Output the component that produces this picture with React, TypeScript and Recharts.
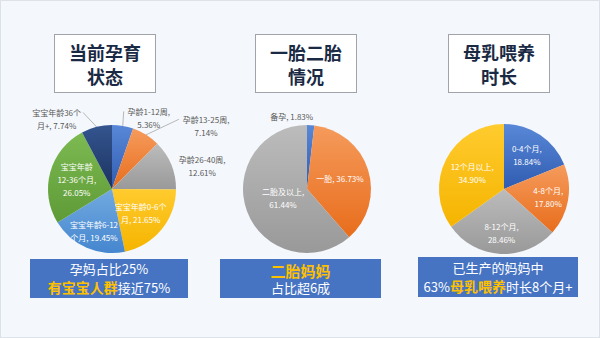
import { PieChart, Pie, Cell } from 'recharts';

// 当前孕育状态
const stageNames = ['孕龄1-12周', '孕龄13-25周', '孕龄26-40周', '宝宝年龄0-6个月', '宝宝年龄6-12个月', '宝宝年龄12-36个月', '宝宝年龄36个月+'];
const stageValues = [5.36, 7.14, 12.61, 21.65, 19.45, 26.05, 7.74];
const stageLabels = ['孕龄1-12周,\n5.36%', '孕龄13-25周,\n7.14%', '孕龄26-40周,\n12.61%', '宝宝年龄0-6个\n月, 21.65%', '宝宝年龄6-12\n个月, 19.45%', '宝宝年龄\n12-36个月,\n26.05%', '宝宝年龄36个\n月+, 7.74%'];

// 一胎二胎情况
const birthNames = ['备孕', '一胎', '二胎及以上'];
const birthValues = [1.83, 36.73, 61.44];
const birthLabels = ['备孕, 1.83%', '一胎, 36.73%', '二胎及以上,\n61.44%'];

// 母乳喂养时长
const feedNames = ['0-4个月', '4-8个月', '8-12个月', '12个月以上'];
const feedValues = [18.84, 17.8, 28.46, 34.9];
const feedLabels = ['0-4个月,\n18.84%', '4-8个月,\n17.80%', '8-12个月,\n28.46%', '12个月以上,\n34.90%'];

// [top, bottom] gradient colours
const PAL: Record<string, [string, string]> = {
  blue: ['#5a88d8', '#2f5cb0'],
  orange: ['#f59b5c', '#e86d1c'],
  grey: ['#bcbcbc', '#999999'],
  yellow: ['#ffcb2e', '#f5b400'],
  sky: ['#72aae0', '#4586cf'],
  green: ['#7dba52', '#5e9a36'],
  navy: ['#34558f', '#1c3260'],
};

// label placement: outside labels are offset from the slice edge,
// inside labels sit at a fraction of the radius
type Off = { dx: number; dy: number; leader: boolean } | null;
const stageOffsets: Off[] = [
  { dx: 26, dy: -8, leader: true },
  { dx: 60, dy: -9, leader: true },
  { dx: 31, dy: 1, leader: false },
  null, null, null,
  { dx: -40, dy: -8, leader: true },
];
const stageLabelR = [0, 0, 0, 0.58, 0.71, 0.57, 0];
const birthOffsets: Off[] = [{ dx: -19, dy: -9, leader: false }, null, null];
const birthLabelR = [0, 0.54, 0.4];
const feedOffsets: Off[] = [null, null, null, null];
const feedLabelR = [0.63, 0.69, 0.68, 0.55];

const FONT = '"Noto Sans CJK SC", "Noto Sans", sans-serif';
const RAD = Math.PI / 180;

function textWidth(s: string, fs: number) {
  let w = 0;
  for (const ch of s) w += /[\u3000-\u9fff\uff00-\uffef]/.test(ch) ? fs : fs * 0.55;
  return w;
}

function makeLabel(lines: string[], offsets: Off[], radii: number[], fs = 8) {
  return (props: any) => {
    const { cx, cy, midAngle, outerRadius, index } = props;
    const cos = Math.cos(-midAngle * RAD);
    const sin = Math.sin(-midAngle * RAD);
    const rows = lines[index].split('\n');
    const lh = 13;
    const off = offsets[index];
    let x: number, y: number, fill: string;
    let leader: JSX.Element | null = null;
    if (off) {
      const ex = cx + outerRadius * cos;
      const ey = cy + outerRadius * sin;
      x = ex + off.dx;
      y = ey + off.dy;
      fill = '#595959';
      if (off.leader) {
        const w = Math.max(...rows.map((r) => textWidth(r, fs)));
        const lx = off.dx > 0 ? x - w / 2 - 2 : x + w / 2 + 2;
        const ly = y - ((rows.length - 1) * lh) / 2;
        leader = <line x1={ex} y1={ey} x2={lx} y2={ly} stroke="#a6a6a6" strokeWidth={0.8} />;
      }
    } else {
      const k = radii[index] || 0.6;
      x = cx + outerRadius * k * cos;
      y = cy + outerRadius * k * sin;
      fill = '#ffffff';
    }
    const y0 = y - ((rows.length - 1) * lh) / 2;
    return (
      <g key={`lbl-${index}`}>
        {leader}
        {rows.map((r, i) => (
          <text key={i} x={x} y={y0 + i * lh} textAnchor="middle" dominantBaseline="central" fill={fill} fontSize={fs} fontFamily={FONT}>
            {r}
          </text>
        ))}
      </g>
    );
  };
}

function Grad({ id, colors }: { id: string; colors: string[] }) {
  return (
    <defs>
      {colors.map((c, i) => (
        <linearGradient key={i} id={`${id}-${i}`} x1="0" y1="0" x2="0" y2="1">
          <stop offset="0%" stopColor={PAL[c][0]} />
          <stop offset="100%" stopColor={PAL[c][1]} />
        </linearGradient>
      ))}
    </defs>
  );
}

type PanelProps = {
  left: number;
  id: string;
  names: string[];
  values: number[];
  labels: string[];
  offsets: Off[];
  radii: number[];
  colors: string[];
  cx: number;
  cy: number;
  r: number;
  title: string[];
  titleBox: [number, number];
  box: [number, number, number, number];
  children: React.ReactNode;
};

function Panel(p: PanelProps) {
  const data = p.names.map((n, i) => ({ name: n, value: p.values[i] }));
  return (
    <div style={{ position: 'absolute', left: p.left, top: 0, width: 200, height: 338 }}>
      <div
        style={{
          position: 'absolute',
          left: p.titleBox[0],
          top: 33,
          width: p.titleBox[1],
          height: 59,
          boxSizing: 'border-box',
          border: '1px solid #a0a4aa',
          background: '#ffffff',
          display: 'flex',
          flexDirection: 'column',
          alignItems: 'center',
          justifyContent: 'center',
          fontFamily: FONT,
          fontWeight: 700,
          fontSize: 18,
          lineHeight: '24px',
          color: '#1b2a44',
        }}
      >
        {p.title.map((t) => (
          <div key={t}>{t}</div>
        ))}
      </div>
      <div style={{ position: 'absolute', left: 0, top: 0 }}>
        <PieChart width={240} height={338}>
          <Grad id={p.id} colors={p.colors} />
          <Pie
            data={data}
            dataKey="value"
            nameKey="name"
            cx={p.cx}
            cy={p.cy}
            outerRadius={p.r}
            startAngle={90}
            endAngle={-270}
            stroke="none"
            label={makeLabel(p.labels, p.offsets, p.radii)}
            labelLine={false}
            isAnimationActive={false}
          >
            {data.map((d, i) => (
              <Cell key={d.name} fill={`url(#${p.id}-${i})`} />
            ))}
          </Pie>
        </PieChart>
      </div>
      <div
        style={{
          position: 'absolute',
          left: p.box[0],
          top: p.box[1],
          width: p.box[2],
          height: p.box[3],
          background: '#4674c2',
          display: 'flex',
          flexDirection: 'column',
          alignItems: 'center',
          justifyContent: 'center',
          fontFamily: FONT,
          color: '#ffffff',
          fontSize: 13,
          lineHeight: '18px',
        }}
      >
        {p.children}
      </div>
    </div>
  );
}

const hl: React.CSSProperties = { color: '#ffc000', fontWeight: 700, fontSize: 14 };

export default function App() {
  return (
    <div
      style={{
        position: 'absolute',
        left: 0,
        top: 0,
        width: 600,
        height: 338,
        boxSizing: 'border-box',
        border: '1px solid #dde2e8',
        background: '#f4f7fb',
        overflow: 'hidden',
      }}
    >
      <Panel
        left={0}
        id="g1"
        names={stageNames}
        values={stageValues}
        labels={stageLabels}
        offsets={stageOffsets}
        radii={stageLabelR}
        colors={['blue', 'orange', 'grey', 'yellow', 'sky', 'green', 'navy']}
        cx={106}
        cy={183}
        r={64}
        title={['当前孕育', '状态']}
        titleBox={[53, 102]}
        box={[29, 258, 158, 39]}
      >
        <div>孕妈占比25%</div>
        <div>
          <span style={hl}>有宝宝人群</span>接近75%
        </div>
      </Panel>
      <Panel
        left={200}
        id="g2"
        names={birthNames}
        values={birthValues}
        labels={birthLabels}
        offsets={birthOffsets}
        radii={birthLabelR}
        colors={['blue', 'orange', 'grey']}
        cx={101}
        cy={183}
        r={64}
        title={['一胎二胎', '情况']}
        titleBox={[54, 102]}
        box={[19, 258, 161, 39]}
      >
        <div style={{ ...hl, fontSize: 15, lineHeight: '18px' }}>二胎妈妈</div>
        <div style={{ lineHeight: '16px' }}>占比超6成</div>
      </Panel>
      <Panel
        left={400}
        id="g3"
        names={feedNames}
        values={feedValues}
        labels={feedLabels}
        offsets={feedOffsets}
        radii={feedLabelR}
        colors={['blue', 'orange', 'grey', 'yellow']}
        cx={98}
        cy={183}
        r={65}
        title={['母乳喂养', '时长']}
        titleBox={[47, 102]}
        box={[17, 256, 160, 40]}
      >
        <div>已生产的妈妈中</div>
        <div>
          63%<span style={hl}>母乳喂养</span>时长8个月+
        </div>
      </Panel>
    </div>
  );
}
